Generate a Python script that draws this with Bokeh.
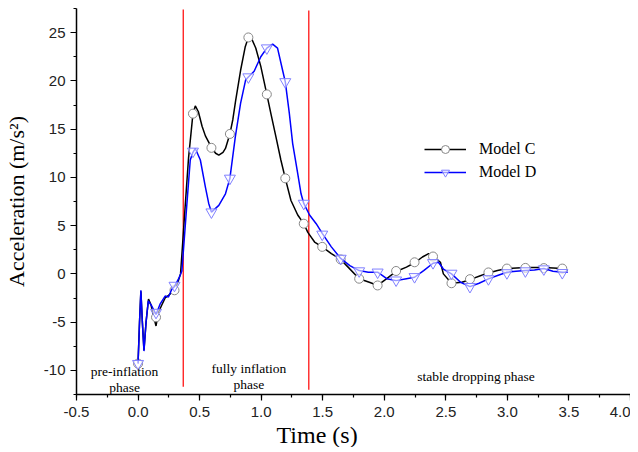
from bokeh.plotting import figure
from bokeh.models import (Range1d, SingleIntervalTicker, PrintfTickFormatter,
                          Legend, LegendItem, Title)
from bokeh.core.properties import value
from bokeh.embed import file_html
from bokeh.resources import INLINE

# ---- data ----
t_c = [0.000, 0.012, 0.023, 0.035, 0.048, 0.065, 0.085, 0.105, 0.130, 0.146,
       0.165, 0.190, 0.220, 0.250, 0.275, 0.296, 0.320, 0.345, 0.356, 0.380,
       0.410, 0.446, 0.465, 0.490, 0.520, 0.547, 0.596, 0.630, 0.656, 0.690,
       0.710, 0.746, 0.770, 0.792, 0.833, 0.870, 0.896, 0.925, 0.956, 0.997,
       1.046, 1.079, 1.120, 1.160, 1.196, 1.242, 1.297, 1.346, 1.379, 1.434,
       1.496, 1.570, 1.646, 1.706, 1.796, 1.884, 1.946, 2.020, 2.096, 2.180,
       2.246, 2.310, 2.360, 2.396, 2.456, 2.480, 2.546, 2.630, 2.696, 2.780,
       2.846, 2.920, 2.996, 3.146, 3.296, 3.446, 3.490]
a_c = [-9.2, -5.0, -1.8, -5.0, -7.9, -5.0, -2.6, -3.2, -4.6, -5.4,
       -4.0, -3.3, -2.5, -2.2, -1.9, -1.7, -1.0, 0.0, 2.0, 6.5,
       12.0, 16.6, 17.4, 16.8, 15.3, 14.3, 13.1, 12.5, 12.3, 12.6,
       13.0, 14.5, 16.0, 17.9, 21.1, 23.5, 24.5, 24.3, 23.4, 21.5,
       18.6, 16.6, 14.2, 11.8, 9.9, 7.6, 6.1, 5.2, 4.3, 3.3,
       2.8, 2.1, 1.5, 0.7, -0.5, -0.9, -1.2, -0.5, 0.25, 0.7,
       1.15, 1.75, 2.1, 1.85, 1.2, 0.0, -0.97, -0.87, -0.6, -0.2,
       0.1, 0.35, 0.55, 0.65, 0.65, 0.55, 0.35]

t_d = [0.000, 0.012, 0.023, 0.035, 0.048, 0.065, 0.083, 0.110, 0.146, 0.180,
       0.220, 0.247, 0.274, 0.296, 0.330, 0.356, 0.397, 0.424, 0.446, 0.465,
       0.506, 0.547, 0.574, 0.596, 0.656, 0.710, 0.746, 0.790, 0.833, 0.874,
       0.896, 0.943, 0.997, 1.046, 1.093, 1.133, 1.174, 1.196, 1.229, 1.256,
       1.297, 1.324, 1.346, 1.393, 1.447, 1.496, 1.570, 1.646, 1.720, 1.796,
       1.870, 1.946, 2.020, 2.096, 2.180, 2.246, 2.320, 2.396, 2.440, 2.480,
       2.546, 2.620, 2.696, 2.770, 2.846, 2.920, 2.996, 3.070, 3.146, 3.220,
       3.296, 3.370, 3.446, 3.490]
a_d = [-9.3, -5.0, -1.7, -5.0, -8.0, -5.0, -2.8, -3.3, -4.2, -3.1,
       -2.3, -2.4, -1.6, -1.3, -0.5, 0.3, 7.3, 11.8, 12.6, 13.0,
       11.8, 9.0, 7.3, 6.4, 7.1, 8.3, 9.9, 14.2, 17.7, 20.1,
       20.4, 21.0, 22.5, 23.4, 23.8, 23.4, 21.1, 19.9, 16.6, 13.5,
       10.4, 8.3, 7.3, 6.1, 5.2, 4.2, 2.8, 1.6, 0.86, 0.34,
       0.17, 0.17, -0.5, -0.7, -0.5, -0.35, 0.34, 1.1, 1.2, 0.5,
       0.0, -0.87, -1.32, -0.97, -0.52, -0.17, 0.17, 0.27, 0.34, 0.4,
       0.55, 0.27, 0.17, 0.17]

mark_t = [0.000, 0.146, 0.296, 0.446, 0.596, 0.746, 0.896, 1.046, 1.196, 1.346,
          1.496, 1.646, 1.796, 1.946, 2.096, 2.246, 2.396, 2.546, 2.696, 2.846,
          2.996, 3.146, 3.296, 3.446]
mark_c = [-9.3, -4.5, -1.7, 16.6, 13.06, 14.5, 24.5, 18.6, 9.9, 5.2,
          2.8, 1.5, -0.5, -1.2, 0.3, 1.2, 1.8, -0.97, -0.55, 0.15,
          0.55, 0.62, 0.6, 0.55]
mark_d = [-9.3, -4.0, -1.2, 12.7, 6.4, 9.9, 20.4, 23.4, 19.9, 7.3,
          4.1, 1.6, 0.3, 0.17, -0.65, -0.3, 1.15, 0.05, -1.32, -0.52,
          0.1, 0.3, 0.5, 0.12]

phase_bounds = [0.367, 1.387]
phase_top = [27.4, 27.3]
phase_bottom = [-11.7, -12.0]

phase_label_x = [-0.11, -0.11, 0.90, 0.90, 2.745]
phase_label_y = [-10.1, -11.75, -9.85, -11.5, -10.6]
phase_label_text = ["pre-inflation", "phase", "fully inflation", "phase",
                    "stable dropping phase"]

x_ticks_interval = 0.5
y_ticks_interval = 5

SERIF = "Liberation Serif"
SANS = "Liberation Sans"

p = figure(width=630, height=447, output_backend="svg", toolbar_location=None,
           x_range=Range1d(-0.5, 4.0), y_range=Range1d(-12.5, 27.5),
           min_border_left=67, min_border_right=0, min_border_top=8,
           min_border_bottom=50)
p.grid.visible = False
p.outline_line_color = None
p.background_fill_color = "white"
p.border_fill_color = "white"

for ax in (p.xaxis[0], p.yaxis[0]):
    ax.axis_line_width = 1.5
    ax.axis_line_color = "black"
    ax.major_tick_line_width = 1.2
    ax.minor_tick_line_width = 1.2
    ax.major_tick_in = 0
    ax.major_tick_out = 6
    ax.minor_tick_in = 0
    ax.minor_tick_out = 3
    ax.major_label_text_font = SANS
    ax.major_label_text_font_size = "15px"
    ax.major_label_text_color = "#222222"

p.xaxis[0].ticker = SingleIntervalTicker(interval=x_ticks_interval, num_minor_ticks=2)
p.yaxis[0].ticker = SingleIntervalTicker(interval=y_ticks_interval, num_minor_ticks=2)
p.xaxis[0].formatter = PrintfTickFormatter(format="%.1f")
p.yaxis[0].formatter = PrintfTickFormatter(format="%d")
p.xaxis[0].major_label_standoff = 6
p.yaxis[0].major_label_standoff = 5

p.yaxis[0].axis_label = "Acceleration (m/s\u00b2)"
p.yaxis[0].axis_label_text_font = SERIF
p.yaxis[0].axis_label_text_font_size = "22px"
p.yaxis[0].axis_label_text_font_style = "normal"
p.yaxis[0].axis_label_text_color = "black"
p.yaxis[0].axis_label_standoff = 12

xt = Title(text="Time (s)", align="left", offset=200, standoff=0,
           text_font=SERIF, text_font_size="24px", text_font_style="normal",
           text_color="black")
p.add_layout(xt, "below")

# phase boundaries
p.segment(x0=phase_bounds, y0=phase_bottom, x1=phase_bounds, y1=phase_top,
          line_color="#ff0000", line_width=1.2)

# series
lc = p.line(t_c, a_c, line_color="black", line_width=1.5)
mc = p.scatter(mark_t, mark_c, marker="circle", size=9, fill_color="white",
               line_color="#888888", line_width=1)
ld = p.line(t_d, a_d, line_color="#0000ff", line_width=1.5)
md = p.scatter(mark_t, mark_d, marker="inverted_triangle", size=11,
               fill_color="white", fill_alpha=0.6, line_color="#8080ff",
               line_width=1)

# phase labels
p.text(x=phase_label_x, y=phase_label_y, text=phase_label_text,
       text_font=value(SERIF), text_font_size="13.5px", text_align="center",
       text_baseline="middle", text_color="black")

legend = Legend(items=[LegendItem(label="Model C", renderers=[lc, mc]),
                       LegendItem(label="Model D", renderers=[ld, md])],
                location=(348, 212), orientation="vertical",
                glyph_width=42, glyph_height=20, label_standoff=13,
                spacing=3, padding=0, margin=0,
                border_line_color=None, background_fill_alpha=0,
                label_text_font=SERIF, label_text_font_size="16px",
                label_text_color="black")
p.add_layout(legend)

open("out.html", "w").write(file_html(p, INLINE))
